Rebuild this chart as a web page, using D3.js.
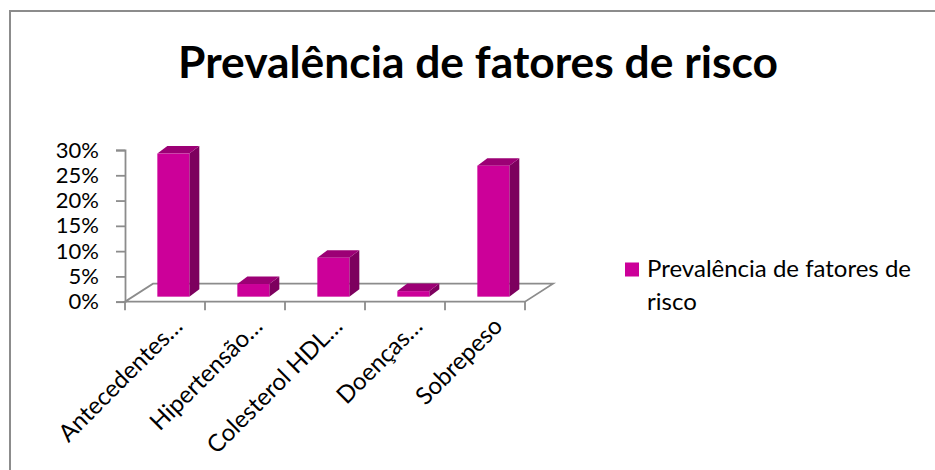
<!DOCTYPE html>
<html>
<head>
<meta charset="utf-8">
<script src="https://cdn.jsdelivr.net/npm/d3@7"></script>
<style>
  body { margin: 0; background: #fff; }
  svg { display: block; font-family: Lato, "Open Sans", sans-serif; }
</style>
</head>
<body>
<div id="chart"></div>
<script>
// data
const categories = ["Antecedentes…", "Hipertensão…", "Colesterol HDL…", "Doenças…", "Sobrepeso"];
const values = [0.283, 0.025, 0.077, 0.011, 0.259];
const yTicks = [0, 0.05, 0.10, 0.15, 0.20, 0.25, 0.30];
const seriesName = "Prevalência de fatores de risco";
const title = "Prevalência de fatores de risco";

const width = 935, height = 470;

const svg = d3.select("#chart")
    .append("svg")
    .attr("width", width)
    .attr("height", height);

// chart frame (right and bottom sides are cut off in the original)
svg.append("path")
    .attr("d", "M10,470 L10,11 L935,11")
    .attr("fill", "none")
    .attr("stroke", "#8c8c8c")
    .attr("stroke-width", 2);

// title, fitted to the original width
const titleText = svg.append("text")
    .attr("x", 478)
    .attr("y", 78)
    .attr("text-anchor", "middle")
    .style("font-weight", "bold")
    .style("font-size", "40px")
    .attr("fill", "#000")
    .text(title);
const tw = titleText.node().getComputedTextLength();
titleText.style("font-size", (40 * 600 / tw) + "px");

// scales
const x = d3.scaleBand()
    .domain(categories)
    .range([125, 525])
    .padding(0);

const y = d3.scaleLinear()
    .domain([0, 0.30])
    .range([301.7, 150]);

const depth = { dx: 28, dy: -18 };     // floor depth
const barDepth = { dx: 10, dy: -7.5 }; // column depth
const barInset = 0.28;                 // how far into the floor the column front sits
const barOffset = 24.5, barW = 32;

const axisColor = "#8c8c8c";

// floor
const y0 = y(0);
const x0 = x.range()[0], x1 = x.range()[1];
svg.append("path")
    .attr("d", `M${x0},${y0} L${x1},${y0} L${x1 + depth.dx},${y0 + depth.dy} L${x0 + depth.dx},${y0 + depth.dy} Z`)
    .attr("fill", "none")
    .attr("stroke", axisColor)
    .attr("stroke-width", 1.8);

// value axis
const yAxis = d3.axisLeft(y)
    .tickValues(yTicks)
    .tickSize(9)
    .tickPadding(17)
    .tickFormat(d3.format(".0%"));

const gy = svg.append("g")
    .attr("transform", `translate(${x0},0)`)
    .call(yAxis);
gy.select(".domain").attr("stroke", axisColor).attr("stroke-width", 1.8);
gy.selectAll(".tick line").attr("stroke", axisColor).attr("stroke-width", 1.8);
gy.selectAll(".tick text")
    .attr("fill", "#000")
    .style("font-size", "22px")
    .style("font-family", "Lato, sans-serif");

// category tick marks at band edges
const edges = categories.map(c => x(c)).concat([x1]);
svg.append("g")
    .selectAll("line")
    .data(edges)
    .join("line")
    .attr("x1", d => d)
    .attr("x2", d => d)
    .attr("y1", y0)
    .attr("y2", y0 + 8.5)
    .attr("stroke", axisColor)
    .attr("stroke-width", 1.8);

// category labels rotated -45
svg.append("g")
    .selectAll("text")
    .data(categories)
    .join("text")
    .attr("text-anchor", "end")
    .attr("transform", d => `translate(${x(d) + x.bandwidth() / 2 + 19},${y0 + 26}) rotate(-45)`)
    .style("font-size", "24px")
    .attr("fill", "#000")
    .text(d => d);

// columns
const frontColor = "#cc0099", topColor = "#9c0075", sideColor = "#7d005e";
const bars = svg.append("g")
    .selectAll("g")
    .data(categories.map((c, i) => ({ c, v: values[i] })))
    .join("g");

const bx = d => x(d.c) + barOffset + depth.dx * barInset;
const by = y0 + depth.dy * barInset;
const bh = d => y0 - y(d.v);

bars.append("path")
    .attr("fill", sideColor)
    .attr("d", d => {
        const r = bx(d) + barW, t = by - bh(d);
        return `M${r},${by} L${r + barDepth.dx},${by + barDepth.dy} L${r + barDepth.dx},${t + barDepth.dy} L${r},${t} Z`;
    });

bars.append("path")
    .attr("fill", topColor)
    .attr("d", d => {
        const l = bx(d), t = by - bh(d);
        return `M${l},${t} L${l + barW},${t} L${l + barW + barDepth.dx},${t + barDepth.dy} L${l + barDepth.dx},${t + barDepth.dy} Z`;
    });

bars.append("rect")
    .attr("fill", frontColor)
    .attr("x", d => bx(d))
    .attr("y", d => by - bh(d))
    .attr("width", barW)
    .attr("height", d => bh(d));

// legend
const legend = svg.append("g");
legend.append("rect")
    .attr("x", 625)
    .attr("y", 262.5)
    .attr("width", 14)
    .attr("height", 14)
    .attr("fill", frontColor);
const lt = legend.append("text")
    .style("font-size", "24px")
    .attr("fill", "#000");
lt.append("tspan").attr("x", 647).attr("y", 277).text("Prevalência de fatores de");
lt.append("tspan").attr("x", 647).attr("y", 310).text("risco");
</script>
</body>
</html>
